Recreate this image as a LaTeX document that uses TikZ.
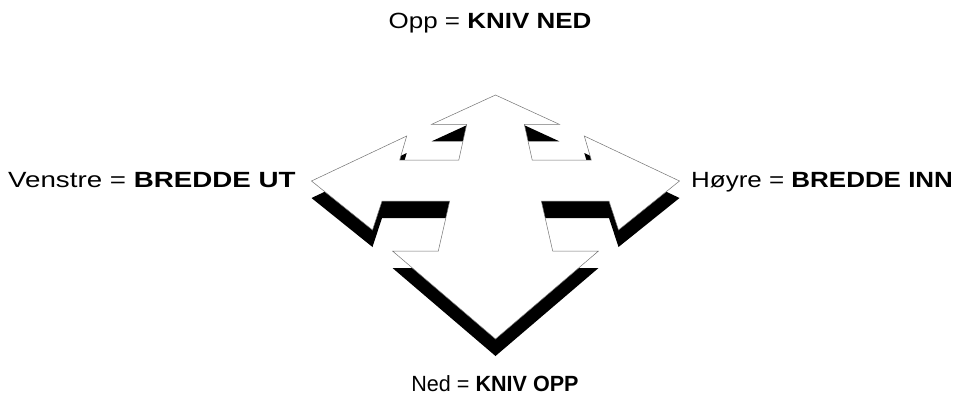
\documentclass[tikz,border=0pt]{standalone}
\usepackage{fontspec}
\usepackage{graphicx}
\setmainfont{Liberation Sans}
\tikzset{
  lbl/.style={font=\fontsize{22}{26}\selectfont, inner sep=0pt},
  face/.style={fill=white, draw=black!55, line width=0.5pt, line join=miter},
  extrusion/.style={fill=black}
}
% outline of the four-way arrow (top face), screen coordinates
\def\crossarrowpath{(495.5,95) -- (559.3,124.3) -- (524.3,124.3) -- (532.2,160)
  -- (591.3,160) -- (584.3,136) -- (679.5,181) -- (618.5,230) -- (609,201)
  -- (541.3,201) -- (552.7,251) -- (598.5,251) -- (495.5,339) -- (392.5,251)
  -- (438.3,251) -- (449.7,201) -- (382,201) -- (372.5,230) -- (311.5,181)
  -- (406.7,136) -- (399.7,160) -- (458.8,160) -- (466.7,124.3) -- (431.7,124.3)
  -- cycle}
% horizontally stretched label text
\newcommand\wstretch[2]{\scalebox{#1}[1]{#2}}
\begin{document}
\begin{tikzpicture}[x=1pt,y=-1pt]
  \useasboundingbox (0,0) rectangle (959,399);
  % dark extrusion below the face
  \begin{scope}[yshift=-17pt]
    \path[extrusion] \crossarrowpath;
  \end{scope}
  % white top face
  \path[face] \crossarrowpath;
  % labels
  \node[lbl, anchor=base] (opp) at (490,28) {\wstretch{1.18}{Opp = \textbf{KNIV NED}}};
  \node[lbl, anchor=base west] (venstre) at (8,187) {\wstretch{1.26}{Venstre = \textbf{BREDDE UT}}};
  \node[lbl, anchor=base west] (hoyre) at (691,187) {\wstretch{1.18}{Høyre = \textbf{BREDDE INN}}};
  \node[lbl, anchor=base] (ned) at (495,391) {\wstretch{0.98}{Ned = \textbf{KNIV OPP}}};
\end{tikzpicture}
\end{document}
